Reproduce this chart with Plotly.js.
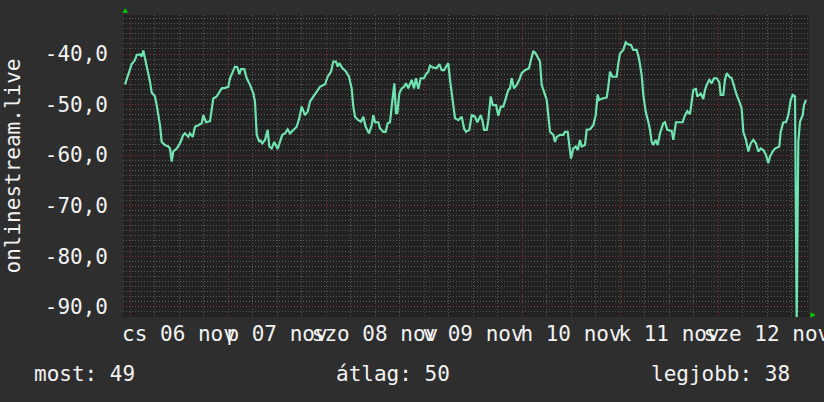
<!DOCTYPE html>
<html>
<head>
<meta charset="utf-8">
<script src="https://cdn.plot.ly/plotly-3.0.1.min.js"></script>
<style>html,body{margin:0;padding:0;background:#2e2e2e;}#chart{width:824px;height:402px;}</style>
</head>
<body>
<div id="chart"></div>
<script>
// hours since 2025-11-06 00:00
const hours = [-1.22,-0.42,0.42,1.22,1.64,2.45,2.87,3.26,3.67,4.48,4.90,5.31,6.12,6.54,6.93,7.35,7.76,8.57,9.38,9.80,
10.21,10.60,11.44,12.24,13.05,13.47,14.28,14.69,15.36,15.92,16.73,17.56,17.95,18.61,19.59,20.40,21.23,21.62,22.46,23.27,
24.07,24.49,25.30,25.71,26.28,26.77,27.18,27.99,28.58,29.39,30.20,30.61,31.03,31.67,31.84,32.40,33.06,33.72,34.11,34.70,
35.34,36.17,36.73,37.30,37.96,38.62,39.18,39.99,40.82,41.46,42.05,42.86,43.52,44.08,44.89,45.72,46.53,47.76,48.42,49.22,
49.79,50.45,50.87,51.26,51.99,52.83,53.63,54.29,54.69,55.10,55.91,56.57,57.14,57.72,58.53,59.19,59.58,60.00,60.81,61.22,
62.03,62.62,63.11,63.67,64.34,64.73,65.14,65.46,65.95,66.54,67.10,67.59,68.16,68.99,69.55,70.04,70.61,71.19,72.00,72.49,
73.06,73.47,74.28,75.11,75.75,76.34,76.90,77.39,77.95,78.37,78.78,79.18,79.59,80.40,81.23,81.80,82.29,83.10,83.69,84.49,
85.06,85.89,86.38,86.70,87.36,87.75,88.34,88.83,89.64,90.20,90.79,91.42,92.08,92.65,93.06,93.48,94.04,94.70,95.34,95.93,
96.73,97.71,98.20,98.77,99.36,99.99,100.41,100.82,101.46,102.05,102.44,102.86,103.67,104.08,104.50,105.31,106.11,106.53,107.19,107.51,
108.00,108.56,109.15,109.64,110.20,110.62,111.43,111.84,112.65,113.46,114.05,114.54,114.86,115.67,116.74,117.14,117.55,118.12,119.19,119.59,
120.00,120.81,121.40,122.03,122.69,123.26,124.09,124.65,125.31,125.71,126.29,126.93,127.35,127.76,128.15,128.74,129.23,129.80,130.61,131.02,
131.58,132.66,133.05,133.71,134.52,135.35,135.92,136.48,137.14,137.56,137.95,138.61,138.93,139.76,140.40,140.82,141.23,141.87,142.46,143.02,
143.68,144.32,144.66,145.30,145.71,146.13,146.77,147.36,147.92,148.58,149.22,149.80,150.20,150.86,151.42,152.01,152.65,153.31,153.87,154.46,
155.10,155.76,156.32,156.73,157.39,157.96,159.01,159.36,159.99,160.65,161.22,161.80,162.29,162.86,163.27,163.66,164.08,164.74,165.06,165.55];

const values = [-46.0,-44.2,-42.0,-41.2,-40.2,-40.1,-40.5,-39.3,-40.9,-43.5,-45.5,-47.6,-48.4,-50.1,-51.7,-54.1,-57.4,-58.0,-58.3,-58.7,
-61.3,-59.3,-58.7,-57.7,-56.0,-55.7,-56.4,-55.7,-56.4,-54.4,-54.1,-53.7,-52.1,-53.5,-53.3,-48.8,-48.4,-47.8,-46.8,-46.7,
-46.5,-44.8,-43.2,-42.5,-42.6,-44.0,-43.0,-43.0,-44.8,-46.1,-47.8,-49.4,-56.0,-57.4,-57.0,-57.7,-57.0,-55.0,-58.3,-58.7,
-57.4,-58.8,-57.4,-56.0,-55.7,-54.9,-55.7,-55.0,-54.4,-52.7,-50.4,-52.1,-51.4,-49.4,-48.4,-47.5,-46.5,-46.0,-44.5,-43.5,
-41.5,-41.5,-42.5,-41.8,-42.8,-43.4,-44.5,-46.8,-50.4,-52.4,-53.1,-53.4,-52.4,-54.4,-55.7,-54.1,-52.1,-53.5,-53.5,-54.7,
-55.4,-55.4,-53.7,-53.5,-48.1,-45.8,-51.7,-51.7,-47.8,-46.8,-46.5,-45.8,-46.8,-45.1,-46.8,-44.8,-46.9,-44.8,-44.8,-44.0,
-43.5,-42.3,-42.7,-42.8,-42.0,-43.2,-43.2,-42.5,-41.8,-45.1,-48.1,-50.4,-52.7,-53.1,-52.4,-54.7,-55.4,-55.0,-52.1,-52.4,
-53.5,-52.1,-53.4,-55.0,-55.0,-53.1,-48.4,-50.1,-50.1,-52.2,-50.4,-50.4,-48.4,-47.1,-46.8,-44.8,-46.8,-46.1,-45.1,-43.8,
-43.2,-42.8,-41.2,-39.4,-39.9,-40.9,-41.5,-46.1,-47.5,-49.1,-52.1,-55.4,-56.0,-57.4,-56.4,-56.0,-56.0,-55.4,-55.4,-58.0,
-60.7,-58.7,-58.3,-59.0,-57.0,-58.3,-58.0,-55.0,-54.9,-54.1,-52.1,-48.0,-49.1,-48.8,-48.6,-46.5,-43.5,-44.5,-44.5,-41.8,
-39.9,-39.2,-37.7,-38.1,-38.2,-39.2,-39.2,-40.9,-44.2,-48.1,-51.4,-53.4,-55.0,-57.4,-58.0,-57.0,-58.0,-55.7,-53.7,-53.5,
-55.0,-55.2,-57.0,-53.5,-53.5,-53.5,-52.1,-51.3,-51.9,-49.8,-47.1,-46.9,-48.4,-47.8,-48.9,-47.1,-46.1,-45.1,-45.8,-44.8,
-44.8,-45.6,-48.1,-48.1,-45.1,-43.8,-44.5,-44.8,-46.5,-48.1,-49.4,-50.8,-55.4,-57.0,-59.3,-57.7,-57.0,-57.7,-59.3,-58.7,
-59.0,-60.0,-61.6,-60.3,-59.3,-58.7,-58.3,-55.4,-53.5,-53.5,-52.1,-49.1,-48.1,-48.4,-93.0,-57.4,-53.4,-52.1,-50.1,-49.1];

const dayTicks = ['2025-11-06','2025-11-07','2025-11-08','2025-11-09','2025-11-10','2025-11-11','2025-11-12'];
const dayLabels = ['cs 06 nov','p 07 nov','szo 08 nov','v 09 nov','h 10 nov','k 11 nov','sze 12 nov'];
const yTickVals = [-90,-80,-70,-60,-50,-40];
const yTickText = ['-90,0','-80,0','-70,0','-60,0','-50,0','-40,0'];
const statLabels = ['most: 49','átlag: 50','legjobb: 38'];
const seriesName = 'onlinestream.live';

const base = Date.UTC(2025,10,6,0,0,0);
function fmt(ms){ return new Date(ms).toISOString().replace('T',' ').slice(0,19); }
const xs = hours.map(h => fmt(base + h*3600000));

const FONT = 'DejaVu Sans Mono, monospace';
const TXT = '#f2f2f2';
const RED = 'rgba(140,45,45,0.95)';
const GRAY = 'rgba(95,95,95,0.9)';

const trace = {
  x: xs, y: values, type: 'scatter', mode: 'lines',
  line: {color: '#6fe3b0', width: 2.2},
  hoverinfo: 'skip', showlegend: false
};

function px2paperX(p){ return (p-123)/686; }
function px2paperY(p){ return (317-p)/302; }

const layout = {
  width: 824, height: 402,
  margin: {l: 123, r: 15, t: 15, b: 85},
  paper_bgcolor: '#2e2e2e',
  plot_bgcolor: '#222222',
  font: {family: FONT, size: 21, color: TXT},
  showlegend: false,
  xaxis: {
    type: 'date',
    range: [fmt(base - 1.714*3600000), fmt(base + 166.286*3600000)],
    tickmode: 'array', tickvals: dayTicks, ticktext: dayLabels,
    ticklabelshift: 49, ticklabeloverflow: 'allow', tickangle: 0,
    ticks: '', showline: false, zeroline: false,
    showgrid: true, gridcolor: RED, gridwidth: 1, griddash: '1px,2px',
    tickfont: {family: FONT, size: 21, color: TXT},
    ticklabelstandoff: 2,
    minor: {dtick: 6*3600000, tick0: '2025-11-06', showgrid: true, gridcolor: GRAY, gridwidth: 1, griddash: '1px,2px', ticks: ''},
    fixedrange: true
  },
  yaxis: {
    range: [-92.04, -32.28],
    tickmode: 'array', tickvals: yTickVals, ticktext: yTickText,
    ticks: '', showline: false, zeroline: false,
    showgrid: true, gridcolor: RED, gridwidth: 1, griddash: '1px,2px',
    minor: {dtick: 1, showgrid: true, gridcolor: GRAY, gridwidth: 1, griddash: '1px,2px', ticks: ''},
    tickfont: {family: FONT, size: 21, color: TXT},
    ticklabelstandoff: 14,
    title: {text: seriesName, font: {family: FONT, size: 21, color: TXT}, standoff: 18},
    automargin: false,
    fixedrange: true
  },
  shapes: [
    {type: 'path', xref: 'paper', yref: 'paper', layer: 'above',
     path: `M ${px2paperX(122.3)} ${px2paperY(12.8)} L ${px2paperX(128.0)} ${px2paperY(12.8)} L ${px2paperX(125.2)} ${px2paperY(8.3)} Z`,
     fillcolor: '#00d000', line: {width: 0}},
    {type: 'path', xref: 'paper', yref: 'paper', layer: 'above',
     path: `M ${px2paperX(810.5)} ${px2paperY(312.3)} L ${px2paperX(810.5)} ${px2paperY(317.7)} L ${px2paperX(815.5)} ${px2paperY(315)} Z`,
     fillcolor: '#00d000', line: {width: 0}}
  ],
  annotations: [
    {text: statLabels[0], xref: 'paper', yref: 'paper', x: px2paperX(32), y: px2paperY(374), xanchor: 'left', yanchor: 'middle', showarrow: false, font: {family: FONT, size: 21, color: TXT}},
    {text: statLabels[1], xref: 'paper', yref: 'paper', x: px2paperX(334), y: px2paperY(374), xanchor: 'left', yanchor: 'middle', showarrow: false, font: {family: FONT, size: 21, color: TXT}},
    {text: statLabels[2], xref: 'paper', yref: 'paper', x: px2paperX(649), y: px2paperY(374), xanchor: 'left', yanchor: 'middle', showarrow: false, font: {family: FONT, size: 21, color: TXT}}
  ]
};

Plotly.newPlot('chart', [trace], layout, {displayModeBar: false, staticPlot: true});
</script>
</body>
</html>
